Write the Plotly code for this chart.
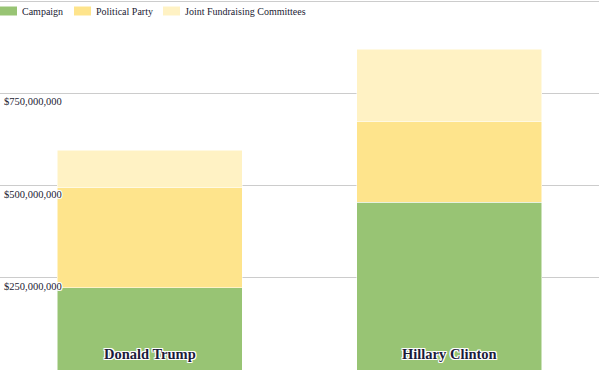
import plotly.graph_objects as go

candidates = ["Donald Trump", "Hillary Clinton"]
series_names = ["Campaign", "Political Party", "Joint Fundraising Committees"]
campaign = [223_000_000, 455_000_000]
political_party = [272_000_000, 218_000_000]
joint_committees = [101_000_000, 196_000_000]
tick_values = [250_000_000, 500_000_000, 750_000_000, 1_000_000_000]
tick_labels = ["$250,000,000", "$500,000,000", "$750,000,000"]

colors = ["#98C474", "#FEE48C", "#FFF2C4"]
series_values = [campaign, political_party, joint_committees]

FONT = "Liberation Serif"
HALO = "-1px -1px 0 #fff, 1px -1px 0 #fff, -1px 1px 0 #fff, 1px 1px 0 #fff, 0 1px 0 #fff, 0 -1px 0 #fff, 1px 0 0 #fff, -1px 0 0 #fff"

fig = go.Figure()
for name, vals, col in zip(series_names, series_values, colors):
    fig.add_trace(go.Bar(
        x=candidates, y=vals, name=name,
        marker=dict(color=col, line=dict(color="white", width=0.5)),
        width=0.618, showlegend=False, hoverinfo="name+y",
    ))

# y tick labels (below gridlines, left aligned inside plot)
for v, t in zip(tick_values, tick_labels):
    fig.add_annotation(x=0, xref="paper", y=v, yref="y", text=t,
                       xanchor="left", yanchor="top", showarrow=False,
                       xshift=2, yshift=-1,
                       font=dict(family=FONT, size=10.5, color="#222233", shadow=HALO))

# category labels inside bars
for c in candidates:
    fig.add_annotation(x=c, y=0, text="<b>" + c + "</b>", xanchor="center", yanchor="bottom",
                       showarrow=False, yshift=6,
                       font=dict(family=FONT, size=14.5, color="#1b1b3a", shadow=HALO))

# custom legend
legend_x = [0, 74, 163]
for lx, name, col in zip(legend_x, series_names, colors):
    fig.add_shape(type="rect", xref="paper", yref="paper",
                  x0=lx / 599, x1=(lx + 17) / 599,
                  y0=1 - 15.5 / 370, y1=1 - 6.5 / 370,
                  fillcolor=col, line=dict(width=0), layer="above")
    fig.add_annotation(x=(lx + 21) / 599, xref="paper", y=1 - 11 / 370, yref="paper",
                       text=name, xanchor="left", yanchor="middle", showarrow=False,
                       borderpad=0,
                       font=dict(family=FONT, size=10, color="#222233"))

fig.update_layout(
    width=599, height=370,
    margin=dict(l=0, r=0, t=0, b=0),
    barmode="stack",
    plot_bgcolor="white", paper_bgcolor="white",
    bargap=0.382,
    xaxis=dict(showticklabels=False, showgrid=False, zeroline=False, showline=False, fixedrange=True),
    yaxis=dict(range=[0, 1_002_800_000], tickvals=tick_values,
               showticklabels=False, showgrid=True, gridcolor="#cccccc", gridwidth=1,
               zeroline=False, showline=False, fixedrange=True),
    showlegend=False,
)

fig.write_html("out.html", config={"displayModeBar": False},
               post_script="document.body.style.margin='0';document.body.style.overflow='hidden';")
